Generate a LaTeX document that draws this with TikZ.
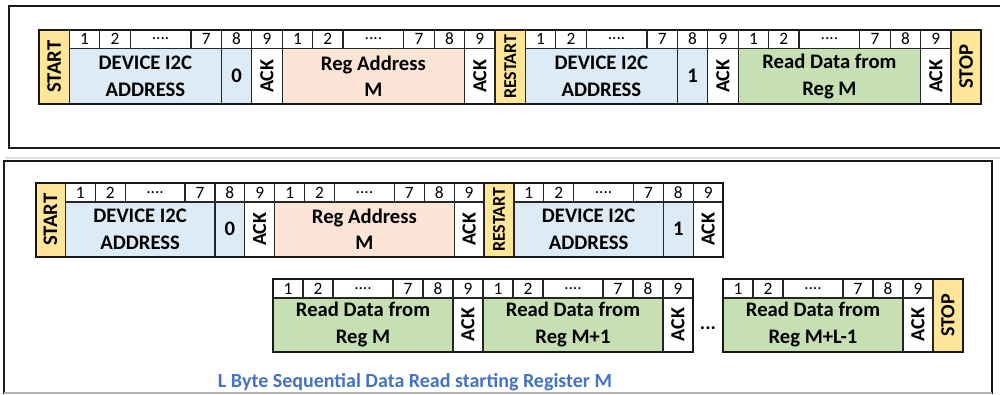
\documentclass[tikz,border=0pt]{standalone}
\usepackage{fontspec}
\setmainfont{Carlito}

\definecolor{condfill}{RGB}{255,230,153}
\definecolor{addrfill}{RGB}{221,235,247}
\definecolor{regfill}{RGB}{252,228,214}
\definecolor{datafill}{RGB}{198,224,180}
\definecolor{capblue}{RGB}{68,114,196}
\newcommand{\bitgap}{\raisebox{0pt}{....}}

\begin{document}
\begin{tikzpicture}[x=0.75pt,y=-0.75pt,
        cell/.style={draw=black!85,line width=0.9pt},
        rowline/.style={draw=black!90,line width=1.5pt},
        panel/.style={draw=black!90,line width=1.8pt},
        hdrtxt/.style={font=\fontsize{13}{14}\selectfont,inner sep=0pt},
        bodytxt/.style={font=\bfseries\fontsize{15.5}{20}\selectfont,align=center,inner sep=0pt},
        vtxt/.style={font=\bfseries\fontsize{15}{16}\selectfont,rotate=90,inner sep=0pt}]
        \useasboundingbox (0,0) rectangle (1000,394);

        % panels
        \draw[panel] (1000,6) -- (9,6) -- (9,148) -- (1000,148);
        \draw[black!12,line width=0.8pt] (5,158) -- (1000,158);
        \draw[panel] (4,394) -- (4,161) -- (992,161) -- (992,394);
        \draw[black!30,line width=0.8pt] (4,393) -- (992,393);

        % single byte read
        \begin{scope}[shift={(39,29.5)},x=22.8pt]
            \foreach \x/\t/\s [count=\k] in {0/START/15.5,15/RESTART/13.5,30/STOP/15.5} {
                \draw[cell,fill=condfill] (\x,0) rectangle ++(1,74.5);
                \node[vtxt,font=\bfseries\fontsize{\s}{\s}\selectfont] (ta-c\k) at ({\x+0.5},37.25) {\t};
            }
            \foreach \b in {1,8,16,23} {
                \foreach \o/\w/\n [count=\j] in {0/1/1,1/1/2,2/2/\bitgap,4/1/7,5/1/8,6/1/9} {
                    \draw[cell,fill=white] (\b+\o,0) rectangle ++(\w,19);
                    \node[hdrtxt] (ta-b\b-\j) at ({\b+\o+\w/2},9.5) {\n};
                }
            }
            \foreach \x/\w/\f/\t [count=\k] in {1/5/addrfill/DEVICE I2C\\ADDRESS,6/1/addrfill/0,
                    8/6/regfill/Reg Address\\M,16/5/addrfill/DEVICE I2C\\ADDRESS,21/1/addrfill/1,
                    23/6/datafill/Read Data from\\Reg M} {
                \draw[cell,fill=\f] (\x,19) rectangle ++(\w,55.5);
                \node[bodytxt] (ta-f\k) at ({\x+\w/2},46.75) {\t};
            }
            \foreach \x [count=\k] in {7,14,22,29} {
                \draw[cell,fill=white] (\x,19) rectangle ++(1,55.5);
                \node[vtxt] (ta-a\k) at ({\x+0.5},46.75) {ACK};
            }
            \draw[rowline] (0,0) rectangle (31,74.5);
        \end{scope}

        % sequential read, address phase
        \begin{scope}[shift={(35.5,183)},x=22.425pt]
            \foreach \x/\t/\s [count=\k] in {0/START/15.5,15/RESTART/13.5} {
                \draw[cell,fill=condfill] (\x,0) rectangle ++(1,73.5);
                \node[vtxt,font=\bfseries\fontsize{\s}{\s}\selectfont] (tb-c\k) at ({\x+0.5},36.75) {\t};
            }
            \foreach \b in {1,8,16} {
                \foreach \o/\w/\n [count=\j] in {0/1/1,1/1/2,2/2/\bitgap,4/1/7,5/1/8,6/1/9} {
                    \draw[cell,fill=white] (\b+\o,0) rectangle ++(\w,19);
                    \node[hdrtxt] (tb-b\b-\j) at ({\b+\o+\w/2},9.5) {\n};
                }
            }
            \foreach \x/\w/\f/\t [count=\k] in {1/5/addrfill/DEVICE I2C\\ADDRESS,6/1/addrfill/0,
                    8/6/regfill/Reg Address\\M,16/5/addrfill/DEVICE I2C\\ADDRESS,21/1/addrfill/1} {
                \draw[cell,fill=\f] (\x,19) rectangle ++(\w,54.5);
                \node[bodytxt] (tb-f\k) at ({\x+\w/2},46.25) {\t};
            }
            \foreach \x [count=\k] in {7,14,22} {
                \draw[cell,fill=white] (\x,19) rectangle ++(1,54.5);
                \node[vtxt] (tb-a\k) at ({\x+0.5},46.25) {ACK};
            }
            \draw[rowline] (0,0) rectangle (23,73.5);
        \end{scope}

        % sequential read, data phase
        \begin{scope}[shift={(273,279)},x=22.5pt]
            \foreach \b in {0,7,15} {
                \foreach \o/\w/\n [count=\j] in {0/1/1,1/1/2,2/2/\bitgap,4/1/7,5/1/8,6/1/9} {
                    \draw[cell,fill=white] (\b+\o,0) rectangle ++(\w,19);
                    \node[hdrtxt] (tc-b\b-\j) at ({\b+\o+\w/2},9.5) {\n};
                }
            }
            \foreach \x/\t [count=\k] in {0/Reg M,7/Reg M+1,15/Reg M+L-1} {
                \draw[cell,fill=datafill] (\x,19) rectangle ++(6,53.5);
                \node[bodytxt] (tc-f\k) at ({\x+3},45.75) {Read Data from\\\t};
            }
            \foreach \x [count=\k] in {6,13,21} {
                \draw[cell,fill=white] (\x,19) rectangle ++(1,53.5);
                \node[vtxt] (tc-a\k) at ({\x+0.5},45.75) {ACK};
            }
            \draw[cell,fill=condfill] (22,0) rectangle ++(1,72.5);
            \node[vtxt] (tc-stop) at (22.5,36.25) {STOP};
            \node[font=\bfseries\fontsize{15}{16}\selectfont,inner sep=0pt] (tc-dots) at (14.5,49) {...};
            \draw[rowline] (0,0) rectangle (14,72.5);
            \draw[rowline] (15,0) rectangle (23,72.5);
        \end{scope}

        \node[font=\bfseries\fontsize{15}{17}\selectfont,text=capblue] (caption) at (415,382)
            {L Byte Sequential Data Read starting Register M};
\end{tikzpicture}
\end{document}
